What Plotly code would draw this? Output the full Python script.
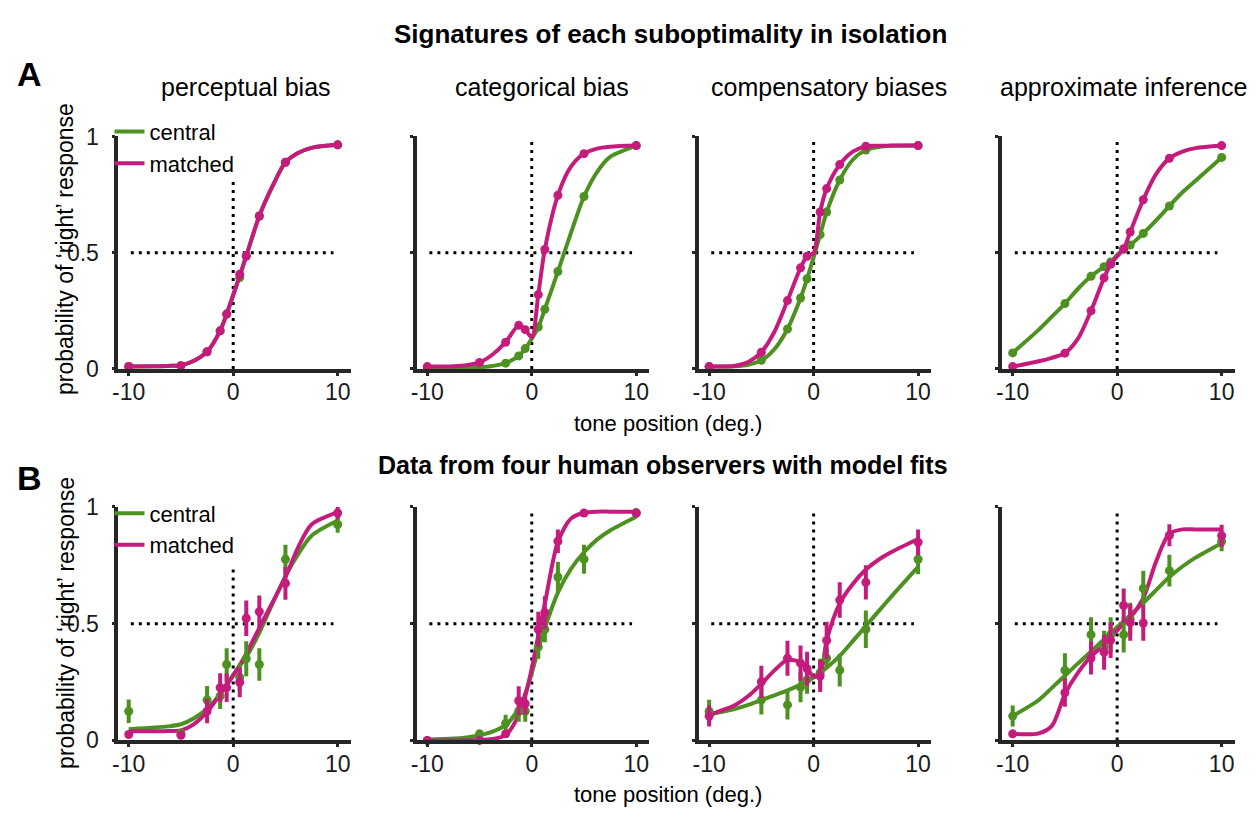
import plotly.graph_objects as go

W, H = 1256, 827

# ---------------- data ----------------
X_STIM = [-10, -5, -2.5, -1.25, -0.625, 0.625, 1.25, 2.5, 5, 10]
FIT_X = [-10, -7.5, -6.25, -5, -3.75, -2.5, -1.25, -0.625, 0, 0.625, 1.25, 2.5, 3.75, 5, 6.25, 7.5, 10]

X_TICKS = [-10, 0, 10]
X_TICK_LABELS = ["-10", "0", "10"]
Y_TICKS = [0, 0.5, 1]
Y_TICK_LABELS = ["0", "0.5", "1"]

PANEL_TITLES = ["perceptual bias", "categorical bias", "compensatory biases", "approximate inference"]
ROW_TITLES = ["Signatures of each suboptimality in isolation", "Data from four human observers with model fits"]
ROW_LETTERS = ["A", "B"]
SERIES_NAMES = ["central", "matched"]
X_LABEL = "tone position (deg.)"
Y_LABEL = "probability of \u2018right\u2019 response"

# Row A: simulated observers (points)
a1_central = [0.011, 0.014, 0.074, 0.164, 0.236, 0.393, 0.486, 0.658, 0.889, 0.964]
a1_matched = [0.011, 0.014, 0.074, 0.164, 0.236, 0.407, 0.486, 0.658, 0.889, 0.964]
a2_central = [0.002, 0.007, 0.025, 0.056, 0.0875, 0.18, 0.257, 0.419, 0.742, 0.961]
a2_matched = [0.01, 0.028, 0.115, 0.1875, 0.169, 0.32, 0.514, 0.747, 0.926, 0.961]
a3_central = [0.01, 0.037, 0.172, 0.305, 0.388, 0.578, 0.675, 0.813, 0.942, 0.961]
a3_matched = [0.01, 0.072, 0.294, 0.435, 0.485, 0.675, 0.776, 0.879, 0.958, 0.961]
a4_central = [0.069, 0.281, 0.399, 0.44, 0.46, 0.515, 0.533, 0.583, 0.701, 0.91]
a4_matched = [0.01, 0.068, 0.25, 0.392, 0.45, 0.517, 0.589, 0.728, 0.906, 0.961]

# Row A: model curves sampled at FIT_X
a1_central_fit = [0.011, 0.012, 0.013, 0.016, 0.035, 0.074, 0.164, 0.236, 0.318, 0.40, 0.486, 0.658, 0.785, 0.889, 0.93, 0.951, 0.964]
a1_matched_fit = [0.011, 0.012, 0.013, 0.016, 0.035, 0.074, 0.164, 0.236, 0.318, 0.40, 0.486, 0.658, 0.785, 0.889, 0.93, 0.951, 0.964]
a2_central_fit = [0.002, 0.003, 0.004, 0.007, 0.013, 0.025, 0.056, 0.0875, 0.13, 0.18, 0.257, 0.419, 0.585, 0.742, 0.847, 0.912, 0.961]
a2_matched_fit = [0.01, 0.012, 0.016, 0.028, 0.062, 0.115, 0.1875, 0.169, 0.136, 0.32, 0.514, 0.747, 0.87, 0.926, 0.948, 0.956, 0.961]
a3_central_fit = [0.01, 0.012, 0.018, 0.037, 0.085, 0.172, 0.305, 0.388, 0.48, 0.578, 0.675, 0.813, 0.90, 0.942, 0.955, 0.96, 0.961]
a3_matched_fit = [0.01, 0.014, 0.03, 0.072, 0.16, 0.294, 0.435, 0.485, 0.499, 0.675, 0.776, 0.879, 0.935, 0.958, 0.96, 0.961, 0.961]
a4_central_fit = [0.069, 0.169, 0.225, 0.281, 0.345, 0.399, 0.44, 0.46, 0.49, 0.515, 0.533, 0.583, 0.64, 0.701, 0.76, 0.81, 0.91]
a4_matched_fit = [0.01, 0.033, 0.048, 0.068, 0.13, 0.25, 0.392, 0.45, 0.485, 0.517, 0.589, 0.728, 0.84, 0.906, 0.935, 0.95, 0.961]

# Row B: human data (points and error-bar half-widths)
b1_central = [0.125, 0.03, 0.173, 0.19, 0.325, 0.27, 0.35, 0.325, 0.776, 0.925]
b1_central_err = [0.05, 0.02, 0.06, 0.055, 0.07, 0.06, 0.075, 0.07, 0.062, 0.035]
b1_matched = [0.025, 0.022, 0.125, 0.226, 0.226, 0.249, 0.523, 0.551, 0.673, 0.974]
b1_matched_err = [0.015, 0.015, 0.052, 0.062, 0.062, 0.064, 0.076, 0.07, 0.07, 0.028]
b2_central = [0.0, 0.028, 0.073, 0.125, 0.125, 0.40, 0.475, 0.70, 0.776, 0.974]
b2_central_err = [0.005, 0.015, 0.037, 0.045, 0.045, 0.05, 0.055, 0.065, 0.062, 0.02]
b2_matched = [0.0, 0.0, 0.028, 0.17, 0.157, 0.475, 0.548, 0.853, 0.974, 0.974]
b2_matched_err = [0.005, 0.005, 0.015, 0.062, 0.045, 0.076, 0.07, 0.05, 0.015, 0.015]
b3_central = [0.124, 0.173, 0.152, 0.228, 0.26, 0.29, 0.352, 0.301, 0.476, 0.776]
b3_central_err = [0.05, 0.062, 0.062, 0.065, 0.06, 0.06, 0.045, 0.07, 0.08, 0.064]
b3_matched = [0.104, 0.251, 0.352, 0.331, 0.307, 0.276, 0.428, 0.601, 0.677, 0.849]
b3_matched_err = [0.045, 0.069, 0.075, 0.075, 0.073, 0.069, 0.08, 0.076, 0.073, 0.055]
b4_central = [0.104, 0.30, 0.453, 0.40, 0.453, 0.453, 0.52, 0.651, 0.727, 0.852]
b4_central_err = [0.045, 0.073, 0.075, 0.07, 0.075, 0.076, 0.07, 0.076, 0.068, 0.042]
b4_matched = [0.028, 0.204, 0.353, 0.378, 0.429, 0.578, 0.505, 0.503, 0.879, 0.877]
b4_matched_err = [0.015, 0.06, 0.071, 0.075, 0.076, 0.073, 0.078, 0.076, 0.047, 0.047]

# Row B: model fits sampled at FIT_X
b1_central_fit = [0.048, 0.055, 0.06, 0.069, 0.095, 0.136, 0.198, 0.238, 0.281, 0.32, 0.357, 0.461, 0.585, 0.704, 0.80, 0.877, 0.942]
b1_matched_fit = [0.039, 0.039, 0.04, 0.043, 0.07, 0.122, 0.198, 0.237, 0.277, 0.322, 0.371, 0.482, 0.59, 0.70, 0.83, 0.925, 0.978]
b2_central_fit = [0.003, 0.008, 0.012, 0.022, 0.038, 0.066, 0.136, 0.20, 0.288, 0.39, 0.481, 0.633, 0.735, 0.806, 0.86, 0.899, 0.958]
b2_matched_fit = [0.0, 0.0, 0.0, 0.001, 0.006, 0.022, 0.108, 0.19, 0.308, 0.45, 0.585, 0.85, 0.95, 0.975, 0.98, 0.98, 0.98]
b3_central_fit = [0.11, 0.135, 0.152, 0.173, 0.193, 0.214, 0.239, 0.254, 0.269, 0.29, 0.311, 0.362, 0.425, 0.49, 0.555, 0.619, 0.743]
b3_matched_fit = [0.11, 0.152, 0.19, 0.242, 0.30, 0.345, 0.335, 0.31, 0.273, 0.283, 0.428, 0.587, 0.67, 0.732, 0.775, 0.808, 0.863]
b4_central_fit = [0.104, 0.173, 0.225, 0.277, 0.33, 0.381, 0.434, 0.46, 0.485, 0.51, 0.536, 0.589, 0.645, 0.70, 0.745, 0.783, 0.845]
b4_matched_fit = [0.028, 0.03, 0.062, 0.198, 0.29, 0.36, 0.409, 0.44, 0.471, 0.50, 0.526, 0.609, 0.769, 0.886, 0.904, 0.904, 0.904]

# ---------------- style ----------------
GREEN = "#4d9221"
PINK = "#c51b7d"
AXIS_COLOR = "#262626"
FONT = "Liberation Sans, Arial, Helvetica, sans-serif"

PANEL_LEFT_PX = [112.8, 412.8, 696.0, 1001.0]
PANEL_W_PX = 233.6
ROW_Y_PX = [(127.5, 367.5), (510.0, 751.0)]
X_RANGE = [-11, 11.25]
VLINE_TOP = [[0.81, 0.98, 0.98, 0.98], [0.74, 0.985, 0.98, 0.99]]


def px_x(p):
    return p / W


def px_y(p):
    return 1 - p / H


fig = go.Figure()

rowA_points = [(a1_central, a1_matched), (a2_central, a2_matched), (a3_central, a3_matched), (a4_central, a4_matched)]
rowA_fits = [(a1_central_fit, a1_matched_fit), (a2_central_fit, a2_matched_fit), (a3_central_fit, a3_matched_fit), (a4_central_fit, a4_matched_fit)]
rowB_points = [(b1_central, b1_central_err, b1_matched, b1_matched_err),
               (b2_central, b2_central_err, b2_matched, b2_matched_err),
               (b3_central, b3_central_err, b3_matched, b3_matched_err),
               (b4_central, b4_central_err, b4_matched, b4_matched_err)]
rowB_fits = [(b1_central_fit, b1_matched_fit), (b2_central_fit, b2_matched_fit), (b3_central_fit, b3_matched_fit), (b4_central_fit, b4_matched_fit)]

LINE_W = 4
MARKER_SIZE = 9

shapes = []
annotations = []

for r in range(2):
    for c in range(4):
        k = r * 4 + c + 1
        xa = "x" if k == 1 else f"x{k}"
        ya = "y" if k == 1 else f"y{k}"
        legend_name = "legend" if r == 0 else "legend2"
        fits = rowA_fits[c] if r == 0 else rowB_fits[c]
        colors = [GREEN, PINK]
        if r == 0:
            pts = rowA_points[c]
            for s in range(2):
                fig.add_trace(go.Scatter(
                    x=FIT_X, y=fits[s], mode="lines", name=SERIES_NAMES[s],
                    line=dict(color=colors[s], width=LINE_W, shape="spline", smoothing=0.8),
                    xaxis=xa, yaxis=ya, showlegend=(c == 0), legend=legend_name,
                    hoverinfo="skip"))
                fig.add_trace(go.Scatter(
                    x=X_STIM, y=pts[s], mode="markers", name=SERIES_NAMES[s],
                    marker=dict(color=colors[s], size=MARKER_SIZE),
                    xaxis=xa, yaxis=ya, showlegend=False, cliponaxis=False))
        else:
            cy, ce, my, me = rowB_points[c]
            for s in range(2):
                fig.add_trace(go.Scatter(
                    x=FIT_X, y=fits[s], mode="lines", name=SERIES_NAMES[s],
                    line=dict(color=colors[s], width=LINE_W, shape="spline", smoothing=0.8),
                    xaxis=xa, yaxis=ya, showlegend=(c == 0), legend=legend_name,
                    hoverinfo="skip"))
            for s, (yy, ee) in enumerate([(cy, ce), (my, me)]):
                fig.add_trace(go.Scatter(
                    x=X_STIM, y=yy, mode="markers", name=SERIES_NAMES[s],
                    marker=dict(color=colors[s], size=MARKER_SIZE),
                    error_y=dict(type="data", array=ee, visible=True, thickness=4, width=0, color=colors[s]),
                    xaxis=xa, yaxis=ya, showlegend=False, cliponaxis=False))

        x0p = PANEL_LEFT_PX[c]
        y_top, y_bot = ROW_Y_PX[r]
        axis_common = dict(showline=True, linecolor=AXIS_COLOR, linewidth=3.5, ticks="outside",
                           ticklen=3, tickwidth=3, tickcolor=AXIS_COLOR, showgrid=False, zeroline=False,
                           tickfont=dict(family=FONT, size=23, color="#1a1a1a"), fixedrange=True)
        fig.layout[f"xaxis{'' if k == 1 else k}"] = dict(
            axis_common, domain=[px_x(x0p), px_x(x0p + PANEL_W_PX)], range=X_RANGE,
            tickvals=X_TICKS, ticktext=X_TICK_LABELS, anchor=ya, ticklabelstandoff=-3)
        fig.layout[f"yaxis{'' if k == 1 else k}"] = dict(
            axis_common, domain=[px_y(y_bot), px_y(y_top)], range=[0, 1],
            tickvals=Y_TICKS, ticktext=Y_TICK_LABELS, anchor=xa, showticklabels=(c == 0),
            ticklabelstandoff=8)

        dot = dict(color="black", width=3, dash="3px,5px")
        shapes.append(dict(type="line", xref=xa, yref=ya, x0=-9.8, x1=9.6, y0=0.5, y1=0.5,
                           line=dot, layer="below"))
        shapes.append(dict(type="line", xref=xa, yref=ya, x0=0, x1=0, y0=0, y1=VLINE_TOP[r][c],
                           line=dot, layer="below"))


def ann(text, xp, yp, size, bold=False, angle=0):
    annotations.append(dict(text=f"<b>{text}</b>" if bold else text, x=px_x(xp), y=px_y(yp),
                            xref="paper", yref="paper", showarrow=False, xanchor="center",
                            yanchor="middle", textangle=angle,
                            font=dict(family=FONT, size=size, color="black")))


ann(ROW_TITLES[0], 668, 22, 26, bold=True)
ann(ROW_TITLES[1], 660, 467, 25, bold=True)
ann(ROW_LETTERS[0], 24, 63, 34, bold=True)
ann(ROW_LETTERS[1], 24, 480, 34, bold=True)
for t, xc in zip(PANEL_TITLES, [241, 539, 827, 1123]):
    ann(t, xc, 76, 25)
for yc in [244, 630]:
    ann(Y_LABEL, 60, yc, 23, angle=-90)
for yc in [424, 807]:
    ann(X_LABEL, 665, yc, 22)

legend_style = dict(font=dict(family=FONT, size=22, color="black"), bgcolor="rgba(0,0,0,0)",
                    xanchor="left", yanchor="top", tracegroupgap=0, itemwidth=30)

fig.update_layout(
    width=W, height=H, margin=dict(l=0, r=0, t=0, b=0),
    paper_bgcolor="white", plot_bgcolor="white",
    shapes=shapes, annotations=annotations,
    legend=dict(legend_style, x=px_x(104), y=px_y(101)),
    legend2=dict(legend_style, x=px_x(104), y=px_y(495)),
    font=dict(family=FONT),
    hovermode=False,
)

PIN_SCRIPT = (
    "document.documentElement.style.margin='0';"
    "document.body.style.margin='0';"
    "document.body.style.overflow='hidden';"
    "var gd=document.getElementById('{plot_id}');"
    "gd.style.position='fixed';gd.style.left='0px';gd.style.top='0px';"
)

fig.write_html("out.html", post_script=PIN_SCRIPT, config={"displayModeBar": False})
